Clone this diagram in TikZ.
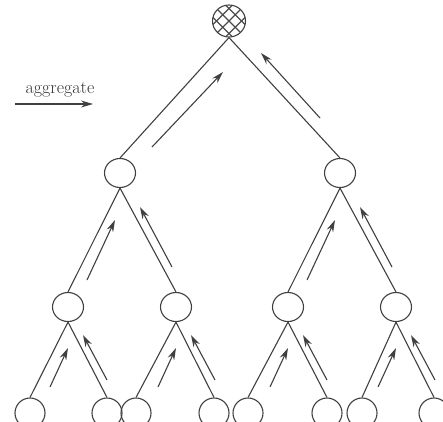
\documentclass[tikz,border=0pt]{standalone}
\usetikzlibrary{shapes.geometric,arrows.meta,calc}
\begin{document}
\begin{tikzpicture}[x=1pt,y=-1pt,
  treenode/.style={draw=black!75, line width=1.1pt, ellipse, inner sep=0pt,
                   minimum width=31pt, minimum height=29pt},
  leafnode/.style={treenode, minimum width=30pt, minimum height=30pt},
  edge/.style={draw=black!75, line width=1.1pt},
  flow/.style={draw=black!75, line width=1.1pt,
               -{Stealth[length=12pt,width=7pt]}},
  hatch/.style={draw=black!70, line width=1.1pt}]
\useasboundingbox (0,0) rectangle (443,421);
\clip (0,0) rectangle (443,421);

% legend
\node[font=\fontsize{18}{18}\selectfont, text=black!80] (lbl) at (60,90) {aggregate};
\coordinate (la) at (15,104);
\coordinate (lb) at (93,104);
\draw[flow] (la) -- (lb);

% root, cross-hatched
\node[treenode, minimum width=33pt, minimum height=32pt] (root) at (229,21) {};
\begin{scope}
  \clip (229,21) ellipse (16.5 and 16);
  \foreach \k in {-2,...,2} {
    \draw[hatch] ($(root)+(\k*12.5-20,-20)$) -- ++(40,40);
    \draw[hatch] ($(root)+(\k*12.5-20,20)$) -- ++(40,-40);
  }
\end{scope}

% level 1
\node[treenode] (a) at (120,173) {};
\node[treenode] (b) at (340,173) {};

% level 2
\node[treenode] (aa) at (68,307) {};
\node[treenode] (ab) at (176,307) {};
\node[treenode] (ba) at (288,307) {};
\node[treenode] (bb) at (396,307) {};

% leaves
\node[leafnode] (l1) at (30,413) {};
\node[leafnode] (l2) at (107,413) {};
\node[leafnode] (l3) at (136,413) {};
\node[leafnode] (l4) at (214,413) {};
\node[leafnode] (l5) at (248,413) {};
\node[leafnode] (l6) at (327,413) {};
\node[leafnode] (l7) at (362,413) {};
\node[leafnode] (l8) at (434,413) {};

% tree edges
\draw[edge] (root.south) -- (a.north);
\draw[edge] (root.south) -- (b.north);
\foreach \p/\u/\v in {a/aa/ab, b/ba/bb, aa/l1/l2, ab/l3/l4, ba/l5/l6, bb/l7/l8} {
  \draw[edge] (\p.south) -- (\u.north);
  \draw[edge] (\p.south) -- (\v.north);
}

% upward aggregation arrows beside the edges
\draw[flow] ($(root)+(-77,126)$) -- ($(root)+(-6,51)$);
\draw[flow] ($(root)+(91,97)$) -- ($(root)+(32,32)$);
\foreach \p in {a,b} {
  \draw[flow] ($(\p)+(-33,107)$) -- ($(\p)+(-5,47)$);
  \draw[flow] ($(\p)+(52,94)$) -- ($(\p)+(20,34)$);
}
\foreach \p in {aa,ab,ba,bb} {
  \draw[flow] ($(\p)+(-18,80)$) -- ($(\p)+(0,41)$);
  \draw[flow] ($(\p)+(39,73)$) -- ($(\p)+(15,28)$);
}
\end{tikzpicture}
\end{document}
